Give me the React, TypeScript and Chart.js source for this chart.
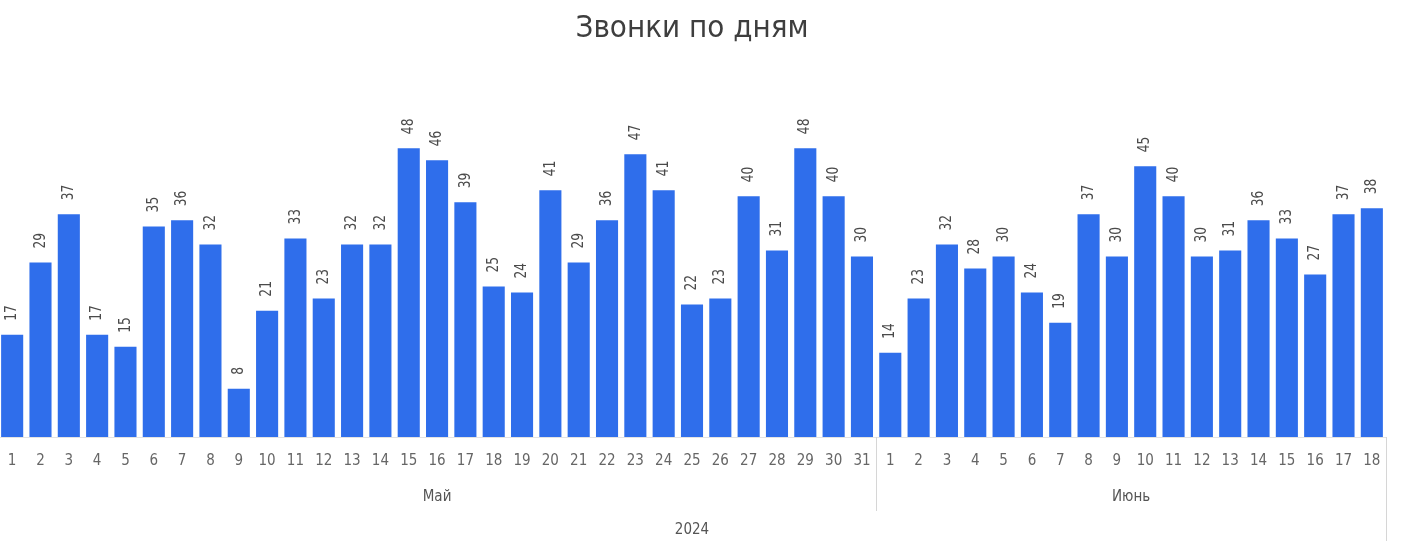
import React, { useEffect, useRef } from "react";
import { Chart, registerables } from "chart.js";

Chart.register(...registerables);

const TITLE = "Звонки по дням";
const YEAR = "2024";
const MONTHS = ["Май", "Июнь"];
const MAY_DAYS = Array.from({ length: 31 }, (_, i) => String(i + 1));
const JUNE_DAYS = Array.from({ length: 18 }, (_, i) => String(i + 1));
const MAY_VALUES = [17, 29, 37, 17, 15, 35, 36, 32, 8, 21, 33, 23, 32, 32, 48, 46, 39, 25, 24, 41, 29, 36, 47, 41, 22, 23, 40, 31, 48, 40, 30];
const JUNE_VALUES = [14, 23, 32, 28, 30, 24, 19, 37, 30, 45, 40, 30, 31, 36, 33, 27, 37, 38];

const FONT = '"DejaVu Sans Condensed", "Liberation Sans Narrow", "Roboto", sans-serif';
const BAR_COLOR = "#2F6EEB";

export default function App() {
  const ref = useRef<HTMLCanvasElement | null>(null);

  useEffect(() => {
    if (!ref.current) return;
    const labels = [...MAY_DAYS, ...JUNE_DAYS];
    const values = [...MAY_VALUES, ...JUNE_VALUES];
    const groups = [
      { name: MONTHS[0], count: MAY_DAYS.length },
      { name: MONTHS[1], count: JUNE_DAYS.length },
    ];

    const overlay = {
      id: "overlay",
      afterDatasetsDraw(chart: any) {
        const ctx = chart.ctx;
        const area = chart.chartArea;
        const xs = chart.scales.x;
        const meta = chart.getDatasetMeta(0);
        const n = labels.length;
        const step = (area.right - area.left) / n;
        ctx.save();
        // title
        ctx.fillStyle = "#3e3e3e";
        ctx.font = `31px ${FONT}`;
        ctx.textAlign = "center";
        ctx.textBaseline = "middle";
        ctx.fillText(TITLE, (area.left + area.right) / 2, 29);

        // baseline
        ctx.strokeStyle = "#e3e3e3";
        ctx.lineWidth = 1;
        ctx.beginPath();
        ctx.moveTo(area.left, area.bottom + 0.5);
        ctx.lineTo(area.right, area.bottom + 0.5);
        ctx.stroke();

        // value labels
        ctx.fillStyle = "#4a4a4a";
        ctx.font = `16px ${FONT}`;
        meta.data.forEach((bar: any, i: number) => {
          ctx.save();
          ctx.translate(bar.x, bar.y - 14);
          ctx.rotate(-Math.PI / 2);
          ctx.scale(0.85, 1);
          ctx.textAlign = "left";
          ctx.textBaseline = "middle";
          ctx.fillText(String(values[i]), 0, 0);
          ctx.restore();
        });

        // day labels
        ctx.fillStyle = "#666";
        ctx.font = `15px ${FONT}`;
        ctx.textAlign = "center";
        ctx.textBaseline = "middle";
        labels.forEach((l, i) => {
          ctx.fillText(l, xs.getPixelForValue(i), area.bottom + 24);
        });

        // month groups
        ctx.font = `15px ${FONT}`;
        let start = 0;
        groups.forEach((g) => {
          const x0 = area.left + start * step;
          const x1 = area.left + (start + g.count) * step;
          ctx.fillStyle = "#555";
          ctx.fillText(g.name, (x0 + x1) / 2, area.bottom + 60);
          start += g.count;
          ctx.strokeStyle = "#d6d6d6";
          ctx.beginPath();
          const isLast = start === n;
          ctx.moveTo(Math.round(x1) + 0.5, area.bottom);
          ctx.lineTo(Math.round(x1) + 0.5, area.bottom + (isLast ? 104 : 74));
          ctx.stroke();
        });

        // year
        ctx.fillStyle = "#555";
        ctx.fillText(YEAR, (area.left + area.right) / 2, area.bottom + 93);
        ctx.restore();
      },
    };

    const chart = new Chart(ref.current, {
      type: "bar",
      data: {
        labels,
        datasets: [
          {
            data: values,
            backgroundColor: BAR_COLOR,
            categoryPercentage: 0.78,
            barPercentage: 1,
            borderWidth: 0,
          },
        ],
      },
      options: {
        animation: false,
        responsive: true,
        maintainAspectRatio: false,
        layout: { padding: { left: 0, right: 23, top: 100, bottom: 112 } },
        plugins: { legend: { display: false }, title: { display: false }, tooltip: { enabled: false } },
        scales: {
          x: { display: false, offset: true, grid: { display: false } },
          y: { display: false, min: 0, max: 56 },
        },
      },
      plugins: [overlay],
    });
    return () => chart.destroy();
  }, []);

  return (
    <div style={{ position: "absolute", left: -2, top: 0, width: 1411, height: 549 }}>
      <canvas ref={ref} />
    </div>
  );
}
